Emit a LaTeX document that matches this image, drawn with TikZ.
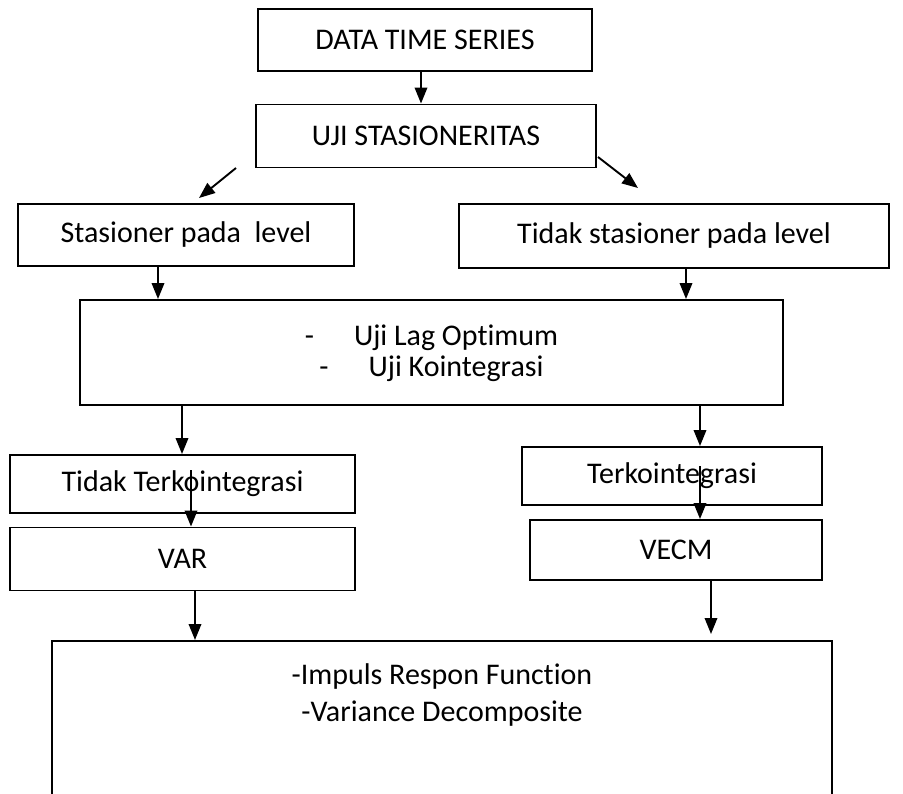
\documentclass[tikz,border=0pt]{standalone}
\usepackage{fontspec}
\setmainfont{Carlito}[Ligatures=NoCommon]
\usetikzlibrary{arrows.meta,calc}
\begin{document}
\begin{tikzpicture}[x=1pt,y=-1pt,
  box/.style={draw=black,line width=1.9pt,rectangle,inner sep=0pt,align=center,
    font=\fontsize{30}{36}\selectfont},
  txt/.style={inner sep=0pt,anchor=base,font=\fontsize{30}{36}\selectfont},
  arr/.style={line width=1.9pt,-{Triangle[length=16pt,width=12.5pt]}}]
\clip (0,0) rectangle (903,794);
\fill[white] (0,0) rectangle (903,794);
% boxes
\node[box,minimum width=334,minimum height=62] (data) at (425,40) {DATA TIME SERIES};
\node[box,minimum width=340,minimum height=63] (uji) at (426,136) {UJI STASIONERITAS};
\node[box,minimum width=336,minimum height=62] (stas) at (186,235) {Stasioner pada\ \ level};
\node[box,minimum width=430,minimum height=64] (tidak) at (674,236) {Tidak stasioner pada level};
\node[box,minimum width=703,minimum height=105] (lag) at (431.5,352.5) {};
\node[txt] (lag1) at (431.5,346) {-\hspace{40pt}Uji Lag Optimum};
\node[txt] (lag2) at (431.5,377) {-\hspace{40pt}Uji Kointegrasi};
\node[box,minimum width=345,minimum height=58] (tt) at (182.5,484) {Tidak Terkointegrasi};
\node[box,minimum width=300,minimum height=58] (tk) at (672,476) {Terkointegrasi};
\node[box,minimum width=345,minimum height=63] (var) at (182.5,559) {VAR};
\node[box,minimum width=292,minimum height=60] (vecm) at (676,550) {VECM};
\node[box,minimum width=780,minimum height=220,anchor=north] (res) at (442,640) {};
\node[txt] (res1) at (442,684) {-Impuls Respon Function};
\node[txt] (res2) at (442,721) {-Variance Decomposite};
% free ends
\coordinate (dl1) at (236,168);
\coordinate (dl2) at (199,198);
\coordinate (dr1) at (598,157);
\coordinate (dr2) at (638,188);
\coordinate (xa) at (421,0);
\coordinate (xb) at (158,0);
\coordinate (xc) at (686,0);
\coordinate (xd) at (182,0);
\coordinate (xe) at (700,0);
\coordinate (s1) at (191,470);
\coordinate (s2) at (700,466);
\coordinate (xf) at (195,0);
\coordinate (xg) at (711,0);
\coordinate (e7) at (711,634);
% connectors
\draw[arr] (data.south -| xa) -- (uji.north -| xa);
\draw[arr] (dl1) -- (dl2);
\draw[arr] (dr1) -- (dr2);
\draw[arr] (stas.south -| xb) -- (lag.north -| xb);
\draw[arr] (tidak.south -| xc) -- (lag.north -| xc);
\draw[arr] (lag.south -| xd) -- (tt.north -| xd);
\draw[arr] (lag.south -| xe) -- (tk.north -| xe);
\draw[arr] (s1) -- (var.north -| s1);
\draw[arr] (s2) -- (vecm.north -| s2);
\draw[arr] (var.south -| xf) -- (res.north -| xf);
\draw[arr] (vecm.south -| xg) -- (e7);
\end{tikzpicture}
\end{document}
